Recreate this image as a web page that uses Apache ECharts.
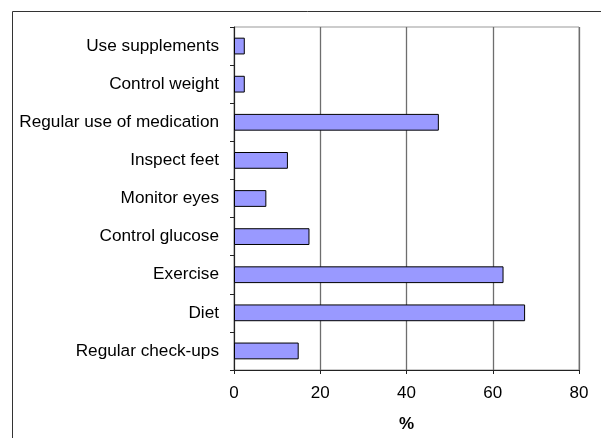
<!DOCTYPE html>
<html>
<head>
<meta charset="utf-8">
<script src="https://cdn.jsdelivr.net/npm/echarts@6/dist/echarts.min.js"></script>
<style>
html,body{margin:0;padding:0;background:#fff;}
#c{width:601px;height:438px;}
</style>
</head>
<body>
<div id="c"></div>
<script>
const categories = ["Use supplements","Control weight","Regular use of medication","Inspect feet","Monitor eyes","Control glucose","Exercise","Diet","Regular check-ups"];
const values = [2.5, 2.5, 47.5, 12.5, 7.5, 17.5, 62.5, 67.5, 15];
const xTicks = [0, 20, 40, 60, 80];
const xName = "%";

const chart = echarts.init(document.getElementById('c'), null, {renderer:'canvas'});
const font = 'Liberation Sans, Arial, sans-serif';
chart.setOption({
  animation: false,
  backgroundColor: '#fff',
  graphic: [{
    type: 'rect',
    shape: {x: 12.5, y: 11.5, width: 700, height: 600},
    style: {fill: 'none', stroke: '#333', lineWidth: 1},
    z: 0
  }],
  grid: {left: 234, right: 22, top: 27, bottom: 68, show: true, borderColor: '#999', borderWidth: 1, backgroundColor: 'transparent'},
  xAxis: {
    type: 'value', min: xTicks[0], max: xTicks[xTicks.length-1], interval: 20,
    name: xName, nameLocation: 'middle', nameGap: 46,
    nameTextStyle: {fontFamily: font, fontSize: 17, fontWeight: 'bold', color: '#000'},
    axisLine: {show: true, lineStyle: {color: '#222', width: 1}},
    axisTick: {show: true, length: 4, lineStyle: {color: '#222'}},
    axisLabel: {margin: 15, fontFamily: font, fontSize: 17, color: '#000'},
    splitLine: {show: true, lineStyle: {color: '#6e6e6e', width: 1.3}}
  },
  yAxis: {
    type: 'category', data: categories, inverse: true,
    axisLine: {show: true, lineStyle: {color: '#222', width: 1}},
    axisTick: {show: true, length: 4, lineStyle: {color: '#222'}},
    axisLabel: {margin: 15, fontFamily: font, fontSize: 17.2, color: '#000', padding: [3, 0, 0, 0]}
  },
  series: [{
    type: 'bar', data: values, barCategoryGap: '56%',
    itemStyle: {color: '#9999FF', borderColor: '#000', borderWidth: 1},
    silent: true
  }]
});
</script>
</body>
</html>
